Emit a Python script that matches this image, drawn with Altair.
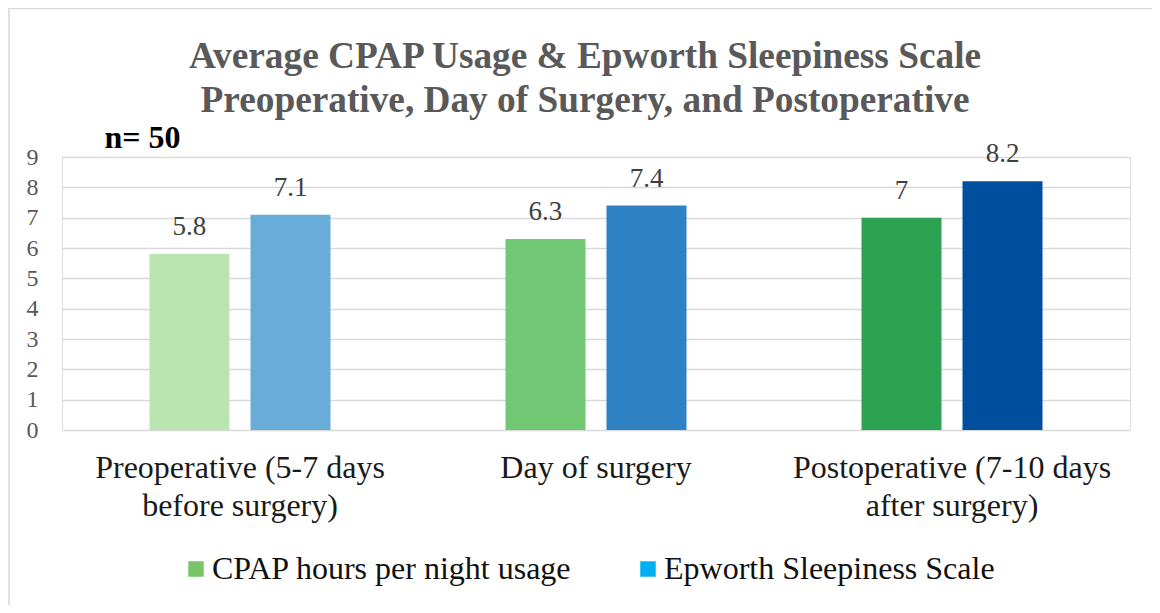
import altair as alt
import pandas as pd

categories = ["Preoperative (5-7 days before surgery)", "Day of surgery",
              "Postoperative (7-10 days after surgery)"]
label_lines = [["Preoperative (5-7 days", "before surgery)"], ["Day of surgery"],
               ["Postoperative (7-10 days", "after surgery)"]]
series = ["CPAP hours per night usage", "Epworth Sleepiness Scale"]
cpap_values = [5.8, 6.3, 7.0]
ess_values = [7.1, 7.4, 8.2]
cpap_colors = ["#bbe5b0", "#72c774", "#2ca350"]
ess_colors = ["#68acd8", "#2e82c4", "#004f9f"]
legend_colors = ["#77c567", "#00b0f0"]
title_lines = ["Average CPAP Usage & Epworth Sleepiness Scale",
               "Preoperative, Day of Surgery, and Postoperative"]
y_ticks = list(range(0, 10))

rows = []
for i, c in enumerate(categories):
    rows.append({"category": c, "series": series[0], "value": cpap_values[i], "bar_color": cpap_colors[i]})
    rows.append({"category": c, "series": series[1], "value": ess_values[i], "bar_color": ess_colors[i]})
df = pd.DataFrame(rows)

def js_str(s):
    return "'" + s.replace("'", "\\'") + "'"

expr = ""
for c, lines in zip(categories[:-1], label_lines[:-1]):
    expr += f"datum.value == {js_str(c)} ? [{', '.join(js_str(l) for l in lines)}] : "
expr += "[" + ", ".join(js_str(l) for l in label_lines[-1]) + "]"

FONT = "Liberation Serif, Times New Roman, serif"

x_enc = alt.X("category:N", sort=categories,
              scale=alt.Scale(paddingInner=0, paddingOuter=0),
              axis=alt.Axis(title=None, labelAngle=0, labelExpr=expr, labelFontSize=32,
                            labelFont=FONT, labelColor="#1a1a1a", labelLineHeight=38,
                            labelPadding=22, ticks=False, domain=False, grid=False,
                            labelBaseline="top", labelLimit=1000))
y_enc = alt.Y("value:Q", scale=alt.Scale(domain=[0, 9], nice=False),
              axis=alt.Axis(values=y_ticks, title="n= 50", titleAngle=0, titleAlign="left",
                            titleBaseline="alphabetic", titleX=42, titleY=-10,
                            titleFont=FONT, titleFontSize=32, titleFontWeight="bold",
                            titleColor="#000000", labelFont=FONT, labelFontSize=24,
                            labelColor="#595959", labelPadding=24, ticks=False, tickSize=0,
                            domain=False, grid=True, gridColor="#d9d9d9", gridWidth=1.3))
xoff = alt.XOffset("series:N", sort=series,
                   scale=alt.Scale(paddingInner=0.208, paddingOuter=0.8663))

base = alt.Chart(df)

legend_layer = base.mark_square(opacity=0, size=10).encode(
    x=x_enc, y=y_enc,
    color=alt.Color("series:N", sort=series,
                    scale=alt.Scale(domain=series, range=legend_colors),
                    legend=alt.Legend(title=None, orient="none", direction="horizontal",
                                      legendX=118, legendY=396, symbolType="square",
                                      symbolSize=240, symbolOpacity=1, symbolStrokeWidth=0,
                                      labelFont=FONT, labelFontSize=32, labelColor="#111111",
                                      labelOffset=0, columnPadding=60, padding=0,
                                      labelLimit=1000)),
)

bars = base.mark_bar().encode(
    x=x_enc, y=y_enc, xOffset=xoff,
    fill=alt.Fill("bar_color:N", scale=None),
)

labels = base.mark_text(dy=-19, baseline="alphabetic", font=FONT, fontSize=27,
                        color="#404040").encode(
    x=x_enc, y=y_enc, xOffset=xoff, text=alt.Text("value:Q"),
)

frame_data = alt.Data(values=[{"k": 1}])
left_border = alt.Chart(frame_data).mark_rule(color="#d9d9d9", strokeWidth=1.5).encode(
    x=alt.value(-53), y=alt.value(-149), y2=alt.value(448))
top_border = alt.Chart(frame_data).mark_rule(color="#d9d9d9", strokeWidth=1.5).encode(
    x=alt.value(-53), x2=alt.value(1090), y=alt.value(-148.5))

chart = alt.layer(legend_layer, bars, labels, left_border, top_border).properties(
    width=1068, height=273,
    title=alt.TitleParams(text=title_lines, font=FONT, fontSize=37.3, fontWeight="bold",
                          color="#595959", lineHeight=44, anchor="middle", offset=4,
                          dx=-11, dy=117),
    autosize=alt.AutoSizeParams(type="none"),
    padding={"left": 54, "top": 149, "right": 22, "bottom": 175},
    background="white",
).configure_view(stroke=None).configure(font=FONT)

chart.save("out.html", embed_options={"renderer": "svg", "actions": False})
